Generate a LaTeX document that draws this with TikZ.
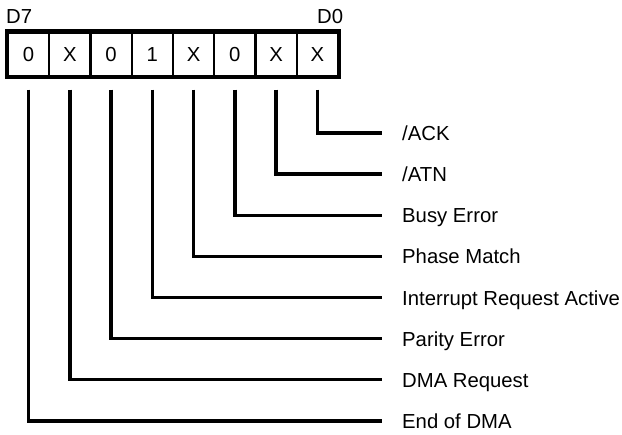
\documentclass[tikz,border=0pt]{standalone}
\usepackage{fontspec}
\setmainfont{Liberation Sans}
\begin{document}
\begin{tikzpicture}[x=1pt,y=-1pt,
  cell/.style={draw, line width=2.4pt, minimum width=41.25pt, minimum height=43.5pt, inner sep=0pt, font=\fontsize{20.3}{24}\selectfont},
  lbl/.style={anchor=base west, inner sep=0pt, font=\fontsize{20.3}{24}\selectfont},
  wire/.style={line width=3.3pt}]
\useasboundingbox (0,0) rectangle (622,435);
% register cells, D7 .. D0
\foreach \i/\v [count=\k from 0] in {7/0,6/X,5/0,4/1,3/X,2/0,1/X,0/X}{
  \node[cell] (c\i) at ({8+41.25*(\k+0.5)},54.25) {\v};
}
\draw[line width=3.8pt] (c7.north west) rectangle (c0.south east);
\node[lbl] (d7) at (6,24) {D7};
\node[lbl] (d0) at (317,24) {D0};
% labels
\foreach \i/\t in {0/{/ACK},1/{/ATN},2/{Busy Error},3/{Phase Match},4/{Interrupt Request Active},5/{Parity Error},6/{DMA Request},7/{End of DMA}}{
  \coordinate (e\i) at (382,{133+41.14*\i});
  \node[lbl] (l\i) at (402,{133+41.14*\i+7.5}) {\t};
  \draw[wire] ([yshift=-12.5pt]c\i.south) |- (e\i);
}
\end{tikzpicture}
\end{document}
